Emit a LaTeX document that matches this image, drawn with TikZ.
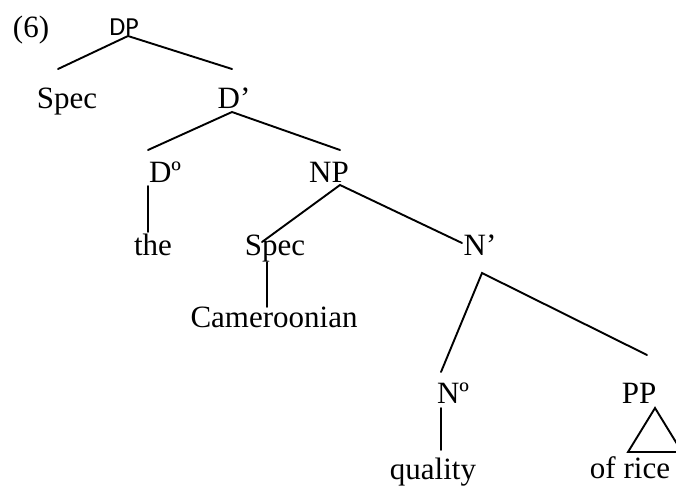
\documentclass[tikz,border=0pt]{standalone}
\usepackage{fontspec}
\setmainfont{Liberation Serif}
\newfontfamily\dpfont{Carlito}
\begin{document}
\begin{tikzpicture}[x=1pt,y=-1pt,
  lbl/.style={inner sep=0pt, anchor=base, font=\fontsize{31}{31}\selectfont},
  edge/.style={line width=1.9pt, line cap=round}]
\useasboundingbox (0,0) rectangle (676,485);
% labels
\node[lbl] (six) at (31,37) {(6)};
\node[lbl, font=\dpfont\fontsize{26}{26}\selectfont] (dp) at (124,35) {DP};
\node[lbl] (spec1) at (67,108) {Spec};
\node[lbl] (dbar) at (234,108) {D’};
\node[lbl] (d0) at (165,182) {Dº};
\node[lbl] (np) at (329,182) {NP};
\node[lbl] (the) at (153,255) {the};
\node[lbl] (spec2) at (275,255) {Spec};
\node[lbl] (nbar) at (480,255) {N’};
\node[lbl] (cam) at (274,327) {Cameroonian};
\node[lbl] (n0) at (453,403) {Nº};
\node[lbl] (pp) at (639,403) {PP};
\node[lbl] (quality) at (433,479) {quality};
\node[lbl] (ofrice) at (630,478) {of rice};
% junction points
\coordinate (dp-b) at (128,36);
\coordinate (spec1-t) at (58,69);
\coordinate (dbar-t) at (232,69);
\coordinate (dbar-b) at (232,112);
\coordinate (d0-t) at (148,150);
\coordinate (np-t) at (340,150);
\coordinate (d0-b) at (148,186);
\coordinate (the-t) at (148,232);
\coordinate (np-b) at (340,185);
\coordinate (spec2-t) at (262,242);
\coordinate (nbar-t) at (462,243);
\coordinate (spec2-b) at (267,262);
\coordinate (cam-t) at (267,307);
\coordinate (nbar-b) at (482,273);
\coordinate (n0-t) at (441,372);
\coordinate (pp-t) at (647,355);
\coordinate (n0-b) at (441,408);
\coordinate (quality-t) at (441,450);
\coordinate (tri-a) at (655,408);
\coordinate (tri-l) at (628,452);
\coordinate (tri-r) at (682,452);
% branches
\draw[edge] (spec1-t) -- (dp-b) -- (dbar-t);
\draw[edge] (d0-t) -- (dbar-b) -- (np-t);
\draw[edge] (d0-b) -- (the-t);
\draw[edge] (spec2-t) -- (np-b) -- (nbar-t);
\draw[edge] (spec2-b) -- (cam-t);
\draw[edge] (n0-t) -- (nbar-b) -- (pp-t);
\draw[edge] (n0-b) -- (quality-t);
\draw[edge, line cap=butt, line join=miter] (tri-a) -- (tri-l) -- (tri-r) -- cycle;
\end{tikzpicture}
\end{document}
